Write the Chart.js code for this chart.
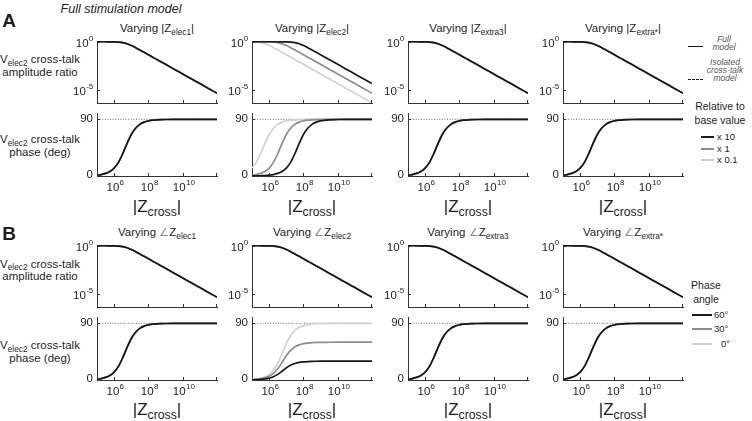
<!DOCTYPE html>
<html><head><meta charset="utf-8"><title>Cross-talk</title>
<script src="https://cdn.jsdelivr.net/npm/chart.js@4.4.1/dist/chart.umd.min.js"></script>
<style>
html,body{margin:0;padding:0;background:#fff;}
#root{position:relative;width:752px;height:421px;overflow:hidden;font-family:'Liberation Sans',Arial,Helvetica,sans-serif;color:#1e1e1e;filter:grayscale(100%);background:#fff;}
#root canvas{position:absolute;}
.t{position:absolute;white-space:nowrap;transform:translate(-50%,-50%);line-height:1;}
.l{position:absolute;white-space:nowrap;transform:translate(0,-50%);line-height:1;}
.sub{font-size:0.72em;position:relative;top:0.32em;}
.ang{color:#8a8a8a;font-size:0.95em;}
.title{font-size:11.5px;}
.ylab{font-size:11.5px;}
.zc{font-size:17px;}
.leg{font-size:8.5px;font-style:italic;color:#555;}
.lh{font-size:10.5px;}
.le{font-size:9.5px;}
.ln{position:absolute;height:0;}
</style></head><body><div id="root">
<div class="t" style="left:121px;top:9px;font-size:12.5px;font-style:italic;">Full stimulation model</div>
<div class="t" style="left:9px;top:20px;font-size:19px;font-weight:bold;">A</div>
<div class="t" style="left:9px;top:233px;font-size:19px;font-weight:bold;">B</div>

<div class="t title" style="left:157px;top:29px;">Varying |Z<span class="sub">elec1</span>|</div>
<div class="t title" style="left:312px;top:29px;">Varying |Z<span class="sub">elec2</span>|</div>
<div class="t title" style="left:468px;top:29px;">Varying |Z<span class="sub">extra3</span>|</div>
<div class="t title" style="left:623px;top:29px;">Varying |Z<span class="sub">extra*</span>|</div>
<div class="t title" style="left:157px;top:233px;">Varying <span class="ang">∠</span>Z<span class="sub">elec1</span></div>
<div class="t title" style="left:312px;top:233px;">Varying <span class="ang">∠</span>Z<span class="sub">elec2</span></div>
<div class="t title" style="left:468px;top:233px;">Varying <span class="ang">∠</span>Z<span class="sub">extra3</span></div>
<div class="t title" style="left:623px;top:233px;">Varying <span class="ang">∠</span>Z<span class="sub">extra*</span></div>

<div class="t ylab" style="left:40px;top:60px;">V<span class="sub">elec2</span> cross-talk</div>
<div class="t ylab" style="left:40px;top:72.5px;">amplitude ratio</div>
<div class="t ylab" style="left:40px;top:140px;">V<span class="sub">elec2</span> cross-talk</div>
<div class="t ylab" style="left:40px;top:152.5px;">phase (deg)</div>
<div class="t ylab" style="left:40px;top:264.5px;">V<span class="sub">elec2</span> cross-talk</div>
<div class="t ylab" style="left:40px;top:277px;">amplitude ratio</div>
<div class="t ylab" style="left:40px;top:346px;">V<span class="sub">elec2</span> cross-talk</div>
<div class="t ylab" style="left:40px;top:358.5px;">phase (deg)</div>

<div class="t zc" style="left:157px;top:206px;">|Z<span class="sub">cross</span>|</div>
<div class="t zc" style="left:312px;top:206px;">|Z<span class="sub">cross</span>|</div>
<div class="t zc" style="left:468px;top:206px;">|Z<span class="sub">cross</span>|</div>
<div class="t zc" style="left:623px;top:206px;">|Z<span class="sub">cross</span>|</div>
<div class="t zc" style="left:157px;top:409px;">|Z<span class="sub">cross</span>|</div>
<div class="t zc" style="left:312px;top:409px;">|Z<span class="sub">cross</span>|</div>
<div class="t zc" style="left:468px;top:409px;">|Z<span class="sub">cross</span>|</div>
<div class="t zc" style="left:623px;top:409px;">|Z<span class="sub">cross</span>|</div>

<!-- legend A -->
<div class="ln" style="left:688px;top:46px;width:15px;border-top:1.6px solid #1a1a1a;"></div>
<div class="t leg" style="left:724px;top:39px;">Full</div>
<div class="t leg" style="left:724px;top:47px;">model</div>
<div class="ln" style="left:688px;top:79px;width:15px;border-top:1.4px dashed #1a1a1a;"></div>
<div class="t leg" style="left:725px;top:62px;">Isolated</div>
<div class="t leg" style="left:725px;top:70px;">cross-talk</div>
<div class="t leg" style="left:725px;top:78px;">model</div>
<div class="t lh" style="left:720px;top:106px;">Relative to</div>
<div class="t lh" style="left:720px;top:120px;">base value</div>
<div class="ln" style="left:701px;top:136px;width:13px;border-top:2px solid #1a1a1a;"></div>
<div class="l le" style="left:717px;top:137px;">x 10</div>
<div class="ln" style="left:701px;top:147.5px;width:13px;border-top:2px solid #8c8c8c;"></div>
<div class="l le" style="left:717px;top:148.5px;">x 1</div>
<div class="ln" style="left:701px;top:159px;width:13px;border-top:2px solid #d2d2d2;"></div>
<div class="l le" style="left:717px;top:160px;">x 0.1</div>

<!-- legend B -->
<div class="t lh" style="left:706px;top:285px;">Phase</div>
<div class="t lh" style="left:706px;top:299px;">angle</div>
<div class="ln" style="left:692px;top:314px;width:20px;border-top:2px solid #1a1a1a;"></div>
<div class="l le" style="left:714px;top:315px;">60°</div>
<div class="ln" style="left:692px;top:328px;width:20px;border-top:2px solid #8c8c8c;"></div>
<div class="l le" style="left:714px;top:329px;">30°</div>
<div class="ln" style="left:692px;top:343px;width:20px;border-top:2px solid #d2d2d2;"></div>
<div class="l le" style="left:721px;top:344px;">0°</div>
</div>
<script>
// ---------------- data ----------------
const zCross = [1e5, 1.78e5, 3.16e5, 5.62e5, 1e6, 1.78e6, 3.16e6, 5.62e6, 1e7, 1.78e7, 3.16e7, 5.62e7,
                1e8, 1.78e8, 3.16e8, 5.62e8, 1e9, 3.16e9, 1e10, 3.16e10, 1e11, 3.16e11, 1e12];

// amplitude ratio
const ampBase     = [1.0, 0.999, 0.997, 0.992, 0.976, 0.929, 0.816, 0.622, 0.408, 0.244, 0.140, 0.0792,
                     0.0446, 0.0251, 0.0141, 0.00794, 0.00447, 0.00141, 4.47e-4, 1.41e-4, 4.47e-5, 1.41e-5, 4.47e-6];
const ampElec2x10 = [1.0, 1.0, 1.0, 1.0, 1.0, 0.999, 0.997, 0.992, 0.976, 0.929, 0.816, 0.622,
                     0.408, 0.244, 0.140, 0.0792, 0.0446, 0.0141, 0.00447, 0.00141, 4.47e-4, 1.41e-4, 4.47e-5];
const ampElec2x01 = [0.976, 0.929, 0.816, 0.622, 0.408, 0.244, 0.140, 0.0792, 0.0446, 0.0251, 0.0141, 0.00794,
                     0.00447, 0.00251, 0.00141, 7.94e-4, 4.47e-4, 1.41e-4, 4.47e-5, 1.41e-5, 4.47e-6, 1.41e-6, 4.47e-7];

// phase (deg)
const phaseBase     = [1.3, 2.3, 4.1, 7.2, 12.6, 21.7, 35.3, 51.5, 65.9, 75.9, 82.0, 85.5,
                       87.4, 88.6, 89.2, 89.5, 89.7, 89.9, 90, 90, 90, 90, 90];
const phaseElec2x10 = [0.1, 0.2, 0.4, 0.7, 1.3, 2.3, 4.1, 7.2, 12.6, 21.7, 35.3, 51.5,
                       65.9, 75.9, 82.0, 85.5, 87.4, 89.2, 89.7, 89.9, 90, 90, 90];
const phaseElec2x01 = [12.6, 21.7, 35.3, 51.5, 65.9, 75.9, 82.0, 85.5, 87.4, 88.6, 89.2, 89.5,
                       89.7, 89.9, 89.9, 90, 90, 90, 90, 90, 90, 90, 90];
const phaseAngle0   = [0.9, 1.6, 2.9, 5.1, 9.0, 15.7, 26.6, 41.7, 57.8, 70.5, 78.7, 83.6,
                       86.4, 88.0, 88.9, 89.4, 89.6, 89.9, 90, 90, 90, 90, 90];
const phaseAngle30  = [0.6, 1.1, 1.9, 3.4, 6.0, 10.5, 17.7, 27.8, 38.5, 47.0, 52.5, 55.7,
                       57.6, 58.6, 59.3, 59.6, 59.8, 59.9, 60, 60, 60, 60, 60];
const phaseAngle60  = [0.3, 0.5, 1.0, 1.7, 3.0, 5.2, 8.9, 13.9, 19.3, 23.5, 26.2, 27.9,
                       28.8, 29.3, 29.6, 29.8, 29.9, 30, 30, 30, 30, 30, 30];
const phaseRef = [90, 90];

// ticks
const xTickValues = [1e6, 1e8, 1e10, 1e12];
const xTickExps   = ['6', '8', '10', ''];
const ampTickValues = [1, 1e-5];
const ampTickExps   = ['0', '-5'];
const phaseTickValues = [0, 90];
const phaseTickLabels = ['0', '90'];

// ---------------- layout / style ----------------
const X_MIN = 1e5, X_MAX = 1e12;
const AMP_MIN = 4.3e-7, AMP_MAX = 1.2;
const PH_MIN = 0, PH_MAX = 100;
const COL_X = [97, 252, 408, 563], PW = 120;
const ROW = { A: { amp: 41, ph: 113 }, B: { amp: 245, ph: 317 } };
const AMP_H = 62, PH_H = 63;
const AXIS = '#333333', TXT = '#1e1e1e';
const C_BLACK = '#161616', C_GRAY = '#8c8c8c', C_LIGHT = '#d2d2d2';
const FAMILY = "'Liberation Sans', Arial, sans-serif";
const TICK_PX = 11.5, EXP_PX = 8, TICK_LEN = 3;

function drawPow(ctx, base, exp, x, y, align) {
  ctx.font = TICK_PX + 'px ' + FAMILY; const wb = ctx.measureText(base).width;
  ctx.font = EXP_PX + 'px ' + FAMILY; const we = exp ? ctx.measureText(exp).width : 0;
  const tot = wb + we;
  const x0 = align === 'right' ? x - tot : (align === 'center' ? x - tot / 2 : x);
  ctx.textAlign = 'left'; ctx.textBaseline = 'middle';
  ctx.font = TICK_PX + 'px ' + FAMILY; ctx.fillText(base, x0, y);
  if (exp) { ctx.font = EXP_PX + 'px ' + FAMILY; ctx.fillText(exp, x0 + wb + 0.3, y - 5); }
}

const mticks = {
  id: 'mticks',
  afterDraw(chart, args, o) {
    const ctx = chart.ctx, a = chart.chartArea, xs = chart.scales.x, ys = chart.scales.y;
    ctx.save();
    ctx.strokeStyle = AXIS; ctx.lineWidth = 1;
    ctx.beginPath();
    xTickValues.forEach(v => {
      const px = Math.min(Math.round(xs.getPixelForValue(v)), Math.round(a.right) - 1) + 0.5;
      ctx.moveTo(px, a.bottom); ctx.lineTo(px, a.bottom - TICK_LEN);
    });
    const yv = o.kind === 'amp' ? ampTickValues : phaseTickValues;
    yv.forEach(v => {
      const py = Math.round(ys.getPixelForValue(v)) + 0.5;
      ctx.moveTo(a.left, py); ctx.lineTo(a.left + TICK_LEN, py);
    });
    ctx.stroke();
    ctx.fillStyle = TXT;
    if (o.kind === 'amp') {
      ampTickValues.forEach((v, i) => drawPow(ctx, '10', ampTickExps[i], a.left - 4, ys.getPixelForValue(v) + 2, 'right'));
    } else {
      phaseTickValues.forEach((v, i) => {
        ctx.font = TICK_PX + 'px ' + FAMILY; ctx.textAlign = 'right'; ctx.textBaseline = 'middle';
        ctx.fillText(phaseTickLabels[i], a.left - 4, ys.getPixelForValue(v) - (v === 0 ? 1.5 : 0));
      });
      xTickValues.forEach((v, i) => {
        if (!xTickExps[i]) return;
        drawPow(ctx, '10', xTickExps[i], xs.getPixelForValue(v) + 1, a.bottom + 11.5, 'center');
      });
    }
    ctx.restore();
  }
};

const root = document.getElementById('root');

function makePanel(col, row, kind, series) {
  const x = COL_X[col];
  const y = kind === 'amp' ? ROW[row].amp : ROW[row].ph;
  const h = kind === 'amp' ? AMP_H : PH_H;
  const padL = 36, padR = 6, padT = 6, padB = kind === 'amp' ? 6 : 24;
  const cv = document.createElement('canvas');
  cv.width = PW + padL + padR; cv.height = h + padT + padB;
  cv.style.left = (x - padL) + 'px'; cv.style.top = (y - padT) + 'px';
  cv.style.width = cv.width + 'px'; cv.style.height = cv.height + 'px';
  root.appendChild(cv);
  const datasets = series.map(s => ({
    data: zCross.map((z, i) => ({ x: z, y: s.values[i] })),
    borderColor: s.color, borderWidth: 1.7, pointRadius: 0,
    cubicInterpolationMode: 'monotone', fill: false
  }));
  if (kind === 'phase') {
    datasets.push({
      data: [{ x: X_MIN, y: phaseRef[0] }, { x: X_MAX, y: phaseRef[1] }],
      borderColor: '#555', borderWidth: 0.9, borderDash: [1, 1.6], pointRadius: 0, fill: false
    });
  }
  const axisCommon = { grid: { display: false, drawTicks: false }, border: { display: true, color: AXIS, width: 1 }, ticks: { display: false } };
  new Chart(cv, {
    type: 'line',
    data: { datasets },
    options: {
      responsive: false, animation: false, devicePixelRatio: 1, events: [],
      layout: { padding: { left: padL, right: padR, top: padT, bottom: padB } },
      plugins: { legend: { display: false }, tooltip: { enabled: false }, mticks: { kind } },
      scales: {
        x: Object.assign({ type: 'logarithmic', min: X_MIN, max: X_MAX }, axisCommon),
        y: kind === 'amp'
          ? Object.assign({ type: 'logarithmic', min: AMP_MIN, max: AMP_MAX }, axisCommon)
          : Object.assign({ type: 'linear', min: PH_MIN, max: PH_MAX }, axisCommon)
      }
    },
    plugins: [mticks]
  });
}

const same = (amp) => [{ values: amp, color: C_BLACK }, { values: amp, color: C_GRAY }, { values: amp, color: C_LIGHT }];

// Section A
[0, 2, 3].forEach(c => { makePanel(c, 'A', 'amp', same(ampBase)); makePanel(c, 'A', 'phase', same(phaseBase)); });
makePanel(1, 'A', 'amp', [{ values: ampElec2x10, color: C_BLACK }, { values: ampBase, color: C_GRAY }, { values: ampElec2x01, color: C_LIGHT }]);
makePanel(1, 'A', 'phase', [{ values: phaseElec2x10, color: C_BLACK }, { values: phaseBase, color: C_GRAY }, { values: phaseElec2x01, color: C_LIGHT }]);

// Section B
[0, 2, 3].forEach(c => { makePanel(c, 'B', 'amp', same(ampBase)); makePanel(c, 'B', 'phase', same(phaseBase)); });
makePanel(1, 'B', 'amp', same(ampBase));
makePanel(1, 'B', 'phase', [{ values: phaseAngle60, color: C_BLACK }, { values: phaseAngle30, color: C_GRAY }, { values: phaseAngle0, color: C_LIGHT }]);
</script></body></html>
